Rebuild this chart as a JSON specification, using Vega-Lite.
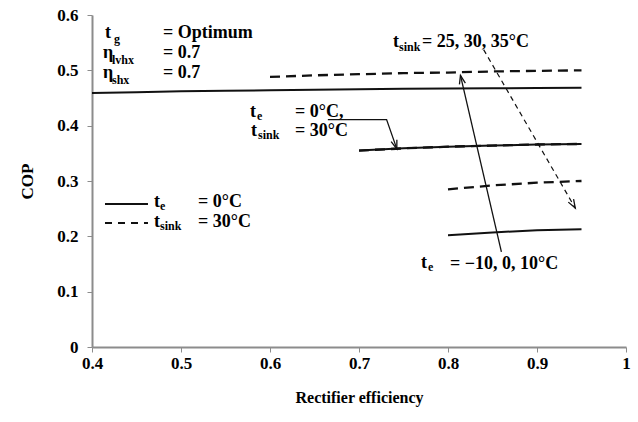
{
  "$schema": "https://vega.github.io/schema/vega-lite/v6.json",
  "width": 534,
  "height": 332,
  "autosize": "none",
  "padding": {"left": 92, "top": 15, "right": 12, "bottom": 75},
  "background": "white",
  "config": {"view": {"stroke": null}, "font": "'Liberation Serif', 'Times New Roman', serif"},
  "datasets": {
    "curves": [
      {"x": 0.4, "y": 0.459, "series": "te10", "style": "solid"},
      {"x": 0.45, "y": 0.4605, "series": "te10", "style": "solid"},
      {"x": 0.5, "y": 0.462, "series": "te10", "style": "solid"},
      {"x": 0.55, "y": 0.463, "series": "te10", "style": "solid"},
      {"x": 0.6, "y": 0.464, "series": "te10", "style": "solid"},
      {"x": 0.65, "y": 0.465, "series": "te10", "style": "solid"},
      {"x": 0.7, "y": 0.466, "series": "te10", "style": "solid"},
      {"x": 0.75, "y": 0.4665, "series": "te10", "style": "solid"},
      {"x": 0.8, "y": 0.467, "series": "te10", "style": "solid"},
      {"x": 0.85, "y": 0.4675, "series": "te10", "style": "solid"},
      {"x": 0.9, "y": 0.468, "series": "te10", "style": "solid"},
      {"x": 0.95, "y": 0.4685, "series": "te10", "style": "solid"},
      {"x": 0.7, "y": 0.355, "series": "te0", "style": "solid"},
      {"x": 0.75, "y": 0.359, "series": "te0", "style": "solid"},
      {"x": 0.8, "y": 0.362, "series": "te0", "style": "solid"},
      {"x": 0.85, "y": 0.364, "series": "te0", "style": "solid"},
      {"x": 0.9, "y": 0.366, "series": "te0", "style": "solid"},
      {"x": 0.95, "y": 0.367, "series": "te0", "style": "solid"},
      {"x": 0.8, "y": 0.202, "series": "te-10", "style": "solid"},
      {"x": 0.85, "y": 0.207, "series": "te-10", "style": "solid"},
      {"x": 0.9, "y": 0.211, "series": "te-10", "style": "solid"},
      {"x": 0.95, "y": 0.213, "series": "te-10", "style": "solid"},
      {"x": 0.6, "y": 0.488, "series": "ts25", "style": "dashed"},
      {"x": 0.65, "y": 0.491, "series": "ts25", "style": "dashed"},
      {"x": 0.7, "y": 0.493, "series": "ts25", "style": "dashed"},
      {"x": 0.75, "y": 0.495, "series": "ts25", "style": "dashed"},
      {"x": 0.8, "y": 0.496, "series": "ts25", "style": "dashed"},
      {"x": 0.85, "y": 0.498, "series": "ts25", "style": "dashed"},
      {"x": 0.9, "y": 0.499, "series": "ts25", "style": "dashed"},
      {"x": 0.95, "y": 0.5, "series": "ts25", "style": "dashed"},
      {"x": 0.7, "y": 0.355, "series": "ts30", "style": "dashed"},
      {"x": 0.75, "y": 0.359, "series": "ts30", "style": "dashed"},
      {"x": 0.8, "y": 0.362, "series": "ts30", "style": "dashed"},
      {"x": 0.85, "y": 0.364, "series": "ts30", "style": "dashed"},
      {"x": 0.9, "y": 0.366, "series": "ts30", "style": "dashed"},
      {"x": 0.95, "y": 0.367, "series": "ts30", "style": "dashed"},
      {"x": 0.8, "y": 0.285, "series": "ts35", "style": "dashed"},
      {"x": 0.85, "y": 0.292, "series": "ts35", "style": "dashed"},
      {"x": 0.9, "y": 0.297, "series": "ts35", "style": "dashed"},
      {"x": 0.95, "y": 0.3, "series": "ts35", "style": "dashed"}
    ],
    "arrows": [
      {"x": 0.86, "y": 0.172, "x2": 0.814, "y2": 0.491, "arrow": "te"},
      {"x": 0.84, "y": 0.5375, "x2": 0.943, "y2": 0.251, "arrow": "tsink"}
    ],
    "heads": [
      {"x": 0.814, "y": 0.491, "angle": -13},
      {"x": 0.943, "y": 0.251, "angle": 150},
      {"x": 0.7425, "y": 0.358, "angle": 161}
    ],
    "callout": [
      {"x": 0.665, "y": 0.411, "order": 1},
      {"x": 0.731, "y": 0.411, "order": 2},
      {"x": 0.7425, "y": 0.358, "order": 3}
    ],
    "legend": [
      {"x": 0.4146, "x2": 0.4629, "y": 0.2584, "style": "solid"},
      {"x": 0.4146, "x2": 0.4629, "y": 0.2241, "style": "dashed"}
    ],
    "mainText": [
      {"x": 0.4146, "y": 0.5585, "text": "t"},
      {"x": 0.4798, "y": 0.5585, "text": "= Optimum"},
      {"x": 0.4124, "y": 0.5214, "text": "η"},
      {"x": 0.4798, "y": 0.5214, "text": "= 0.7"},
      {"x": 0.4124, "y": 0.4853, "text": "η"},
      {"x": 0.4798, "y": 0.4853, "text": "= 0.7"},
      {"x": 0.5775, "y": 0.4157, "text": "t"},
      {"x": 0.6281, "y": 0.4157, "text": "= 0°C,"},
      {"x": 0.5787, "y": 0.3813, "text": "t"},
      {"x": 0.6281, "y": 0.3813, "text": "= 30°C"},
      {"x": 0.4697, "y": 0.253, "text": "t"},
      {"x": 0.5191, "y": 0.253, "text": "= 0°C"},
      {"x": 0.4697, "y": 0.2169, "text": "t"},
      {"x": 0.5191, "y": 0.2169, "text": "= 30°C"},
      {"x": 0.7382, "y": 0.5422, "text": "t"},
      {"x": 0.7708, "y": 0.5422, "text": "= 25, 30, 35°C"},
      {"x": 0.7697, "y": 0.1428, "text": "t"},
      {"x": 0.8022, "y": 0.1417, "text": "= −10, 0, 10°C"}
    ],
    "subText": [
      {"x": 0.4247, "y": 0.5494, "text": "g"},
      {"x": 0.4225, "y": 0.5115, "text": "lvhx"},
      {"x": 0.4225, "y": 0.4744, "text": "shx"},
      {"x": 0.5854, "y": 0.4102, "text": "e"},
      {"x": 0.5865, "y": 0.3759, "text": "sink"},
      {"x": 0.4764, "y": 0.2477, "text": "e"},
      {"x": 0.4764, "y": 0.2114, "text": "sink"},
      {"x": 0.7449, "y": 0.535, "text": "sink"},
      {"x": 0.7775, "y": 0.1374, "text": "e"}
    ]
  },
  "layer": [
    {
      "data": {"name": "curves"},
      "transform": [{"filter": "datum.style == 'solid'"}],
      "mark": {"type": "line", "color": "#111", "strokeWidth": 2},
      "encoding": {
        "x": {
          "field": "x", "type": "quantitative",
          "scale": {"domain": [0.4, 1], "nice": false, "zero": false},
          "axis": {
            "title": "Rectifier efficiency",
            "values": [0.4, 0.5, 0.6, 0.7, 0.8, 0.9, 1],
            "format": ".1~f", "grid": false,
            "domainColor": "#8c8c8c", "domainWidth": 2,
            "tickColor": "#8c8c8c", "tickWidth": 1, "tickSize": 5,
            "labelFont": "'Liberation Serif', 'Times New Roman', serif", "labelFontWeight": "bold", "labelFontSize": 17,
            "labelColor": "#000", "labelPadding": 3, "labelFlush": false,
            "titleFont": "'Liberation Serif', 'Times New Roman', serif", "titleFontSize": 16, "titleFontWeight": "bold",
            "titleColor": "#000", "titlePadding": 18
          }
        },
        "y": {
          "field": "y", "type": "quantitative",
          "scale": {"domain": [0, 0.6], "nice": false},
          "axis": {
            "title": "COP",
            "values": [0, 0.05, 0.1, 0.15, 0.2, 0.25, 0.3, 0.35, 0.4, 0.45, 0.5, 0.55, 0.6],
            "format": ".1~f", "grid": false,
            "labelExpr": "round(datum.value*20) % 2 == 1 ? '' : datum.label",
            "tickSize": {"condition": {"test": "round(datum.value*20) % 2 == 1", "value": 3}, "value": 5},
            "domainColor": "#8c8c8c", "domainWidth": 2,
            "tickColor": "#8c8c8c", "tickWidth": 1,
            "labelFont": "'Liberation Serif', 'Times New Roman', serif", "labelFontWeight": "bold", "labelFontSize": 17,
            "labelColor": "#000", "labelPadding": 9, "labelFlush": false,
            "titleFont": "'Liberation Serif', 'Times New Roman', serif", "titleFontSize": 17, "titleFontWeight": "bold",
            "titleColor": "#000", "titlePadding": 20
          }
        },
        "detail": {"field": "series"}
      }
    },
    {
      "data": {"name": "curves"},
      "transform": [{"filter": "datum.style == 'dashed'"}],
      "mark": {"type": "line", "color": "#111", "strokeWidth": 2.3, "strokeDash": [10, 6]},
      "encoding": {
        "x": {"field": "x", "type": "quantitative"},
        "y": {"field": "y", "type": "quantitative"},
        "detail": {"field": "series"}
      }
    },
    {
      "mark": {"type": "rule", "color": "#222", "strokeWidth": 2.5},
      "encoding": {"y": {"datum": 0.6, "type": "quantitative"}}
    },
    {
      "mark": {"type": "rule", "color": "#222", "strokeWidth": 2.5},
      "encoding": {"x": {"datum": 1, "type": "quantitative"}}
    },
    {
      "data": {"name": "arrows"},
      "transform": [{"filter": "datum.arrow == 'te'"}],
      "mark": {"type": "rule", "color": "#111", "strokeWidth": 1.3},
      "encoding": {
        "x": {"field": "x", "type": "quantitative"},
        "y": {"field": "y", "type": "quantitative"},
        "x2": {"field": "x2"},
        "y2": {"field": "y2"}
      }
    },
    {
      "data": {"name": "arrows"},
      "transform": [{"filter": "datum.arrow == 'tsink'"}],
      "mark": {"type": "rule", "color": "#111", "strokeWidth": 1.2, "strokeDash": [5, 4]},
      "encoding": {
        "x": {"field": "x", "type": "quantitative"},
        "y": {"field": "y", "type": "quantitative"},
        "x2": {"field": "x2"},
        "y2": {"field": "y2"}
      }
    },
    {
      "data": {"name": "callout"},
      "mark": {"type": "line", "color": "#111", "strokeWidth": 1.3},
      "encoding": {
        "x": {"field": "x", "type": "quantitative"},
        "y": {"field": "y", "type": "quantitative"},
        "order": {"field": "order"}
      }
    },
    {
      "data": {"name": "heads"},
      "mark": {"type": "point", "shape": "M-0.35,1L0,0L0.35,1", "filled": false, "stroke": "#111", "strokeWidth": 1.3, "size": 300, "opacity": 1},
      "encoding": {
        "x": {"field": "x", "type": "quantitative"},
        "y": {"field": "y", "type": "quantitative"},
        "angle": {"field": "angle", "type": "quantitative", "scale": null}
      }
    },
    {
      "data": {"name": "legend"},
      "transform": [{"filter": "datum.style == 'solid'"}],
      "mark": {"type": "rule", "color": "#111", "strokeWidth": 2},
      "encoding": {
        "x": {"field": "x", "type": "quantitative"},
        "x2": {"field": "x2"},
        "y": {"field": "y", "type": "quantitative"}
      }
    },
    {
      "data": {"name": "legend"},
      "transform": [{"filter": "datum.style == 'dashed'"}],
      "mark": {"type": "rule", "color": "#111", "strokeWidth": 2, "strokeDash": [7, 6]},
      "encoding": {
        "x": {"field": "x", "type": "quantitative"},
        "x2": {"field": "x2"},
        "y": {"field": "y", "type": "quantitative"}
      }
    },
    {
      "data": {"name": "mainText"},
      "mark": {"type": "text", "align": "left", "baseline": "alphabetic", "font": "'Liberation Serif', 'Times New Roman', serif", "fontWeight": "bold", "fontSize": 18, "color": "#000"},
      "encoding": {
        "x": {"field": "x", "type": "quantitative"},
        "y": {"field": "y", "type": "quantitative"},
        "text": {"field": "text"}
      }
    },
    {
      "data": {"name": "subText"},
      "mark": {"type": "text", "align": "left", "baseline": "alphabetic", "font": "'Liberation Serif', 'Times New Roman', serif", "fontWeight": "bold", "fontSize": 12, "color": "#000"},
      "encoding": {
        "x": {"field": "x", "type": "quantitative"},
        "y": {"field": "y", "type": "quantitative"},
        "text": {"field": "text"}
      }
    }
  ]
}
